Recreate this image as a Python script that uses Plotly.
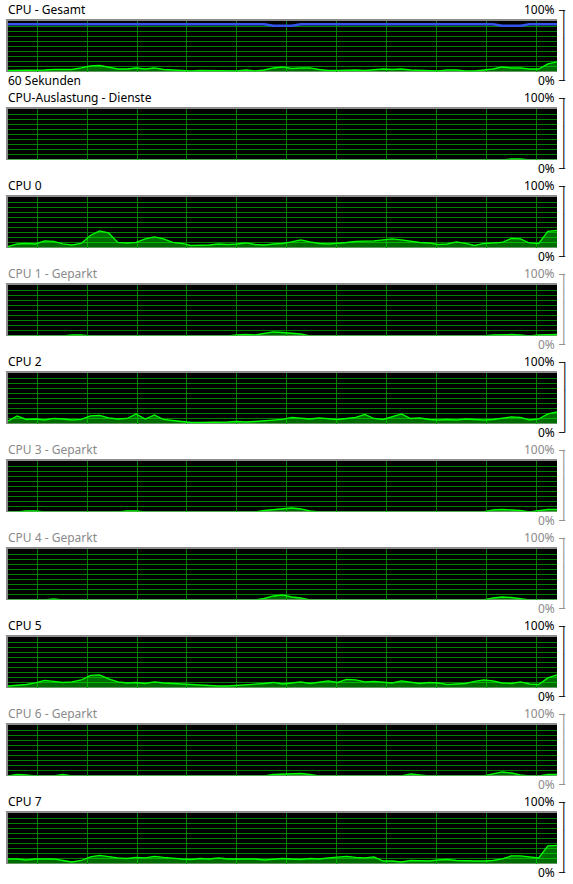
import plotly.graph_objects as go

W, H = 573, 884

# ---------------- data ----------------
seconds = list(range(61))  # last 60 seconds, one sample per second

panel_titles = ["CPU - Gesamt", "CPU-Auslastung - Dienste", "CPU 0", "CPU 1 - Geparkt",
                "CPU 2", "CPU 3 - Geparkt", "CPU 4 - Geparkt", "CPU 5",
                "CPU 6 - Geparkt", "CPU 7"]
parked = [False, False, False, True, False, True, True, False, True, False]
top_label = "100%"
bottom_label = "0%"
time_label = "60 Sekunden"

cpu_total = [3, 3, 4, 4, 4, 5, 5, 5, 8, 12, 13, 10, 6, 6, 8, 6, 8, 5, 4, 2,
             2, 3, 3, 2, 2, 2, 4, 2, 4, 8, 10, 7, 8, 8, 5, 3, 3, 4, 4, 3,
             4, 6, 5, 6, 4, 3, 2, 2, 4, 4, 2, 2, 4, 6, 10, 8, 8, 6, 6, 16, 20]
max_frequency = [95, 95, 95, 95, 95, 95, 95, 95, 95, 95, 95, 95, 95, 95, 95, 95, 95, 95, 95, 95,
                 95, 95, 95, 95, 95, 95, 95, 95, 95, 92, 92, 92, 95, 95, 95, 95, 95, 95, 95, 95,
                 95, 95, 95, 95, 95, 95, 95, 95, 95, 95, 95, 95, 95, 95, 92, 92, 92, 95, 95, 95, 95]
services = [0, 0, 0, 0, 0, 0, 0, 0, 0, 0, 0, 0, 0, 0, 0, 0, 0, 0, 0, 0,
            0, 0, 0, 0, 0, 0, 0, 0, 0, 0, 0, 0, 0, 0, 0, 0, 0, 0, 0, 0,
            0, 0, 0, 0, 0, 0, 0, 0, 0, 0, 0, 0, 0, 0, 0, 2, 2, 0, 0, 0, 0]
cpu0 = [3, 8, 9, 8, 14, 13, 8, 6, 9, 25, 34, 30, 11, 10, 11, 18, 22, 18, 11, 9,
        5, 5, 6, 8, 7, 8, 10, 7, 6, 8, 9, 12, 16, 12, 9, 8, 9, 11, 13, 13,
        14, 16, 18, 16, 13, 11, 10, 7, 8, 12, 9, 5, 9, 10, 11, 19, 18, 10, 9, 33, 35]
cpu1 = [0, 0, 0, 0, 0, 0, 0, 2, 2, 0, 0, 0, 0, 0, 0, 0, 0, 0, 0, 0,
        0, 0, 0, 0, 0, 2, 3, 2, 5, 8, 7, 5, 4, 0, 0, 0, 0, 0, 0, 0,
        0, 0, 0, 0, 0, 0, 0, 0, 0, 0, 0, 0, 0, 2, 3, 3, 2, 0, 2, 3, 3]
cpu2 = [6, 16, 9, 10, 8, 11, 10, 8, 9, 16, 17, 12, 10, 11, 20, 10, 18, 9, 7, 5,
        3, 3, 3, 4, 4, 5, 4, 5, 6, 7, 9, 13, 12, 10, 12, 10, 9, 11, 13, 19,
        11, 9, 15, 20, 11, 12, 9, 8, 9, 8, 10, 9, 8, 9, 11, 14, 13, 8, 10, 20, 24]
cpu3 = [0, 0, 2, 2, 0, 0, 0, 0, 0, 0, 0, 0, 0, 2, 2, 0, 0, 0, 0, 0,
        0, 0, 0, 0, 0, 0, 0, 0, 3, 5, 7, 8, 6, 2, 0, 0, 0, 0, 0, 0,
        0, 0, 0, 0, 0, 0, 0, 0, 0, 0, 0, 0, 0, 4, 5, 4, 3, 0, 2, 5, 5]
cpu4 = [0, 0, 0, 0, 0, 2, 0, 0, 0, 0, 0, 0, 0, 0, 0, 0, 0, 0, 0, 0,
        0, 0, 0, 0, 0, 0, 0, 0, 3, 8, 10, 6, 4, 0, 0, 0, 0, 0, 0, 0,
        0, 0, 0, 0, 0, 0, 0, 0, 0, 0, 0, 0, 0, 4, 6, 5, 2, 0, 0, 0, 0]
cpu5 = [4, 5, 7, 10, 15, 13, 11, 12, 16, 25, 26, 18, 12, 10, 11, 9, 12, 10, 9, 8,
        6, 5, 5, 4, 4, 5, 6, 7, 9, 11, 8, 10, 12, 9, 11, 14, 11, 17, 16, 12,
        13, 11, 10, 14, 12, 9, 11, 10, 7, 8, 9, 13, 16, 14, 10, 9, 12, 8, 7, 20, 26]
cpu6 = [0, 3, 2, 0, 0, 0, 3, 0, 0, 0, 0, 0, 0, 0, 0, 0, 0, 0, 0, 0,
        0, 0, 0, 0, 0, 0, 0, 0, 0, 3, 4, 4, 5, 3, 0, 0, 0, 0, 0, 0,
        0, 0, 0, 0, 4, 2, 0, 0, 0, 0, 0, 0, 0, 4, 8, 6, 2, 0, 0, 3, 3]
cpu7 = [10, 10, 8, 10, 10, 10, 7, 4, 7, 14, 17, 14, 12, 11, 13, 12, 15, 13, 11, 10,
        9, 11, 10, 12, 10, 10, 9, 10, 8, 9, 11, 10, 9, 11, 10, 12, 14, 15, 13, 12,
        14, 6, 6, 4, 7, 6, 6, 8, 9, 7, 6, 6, 6, 7, 10, 16, 16, 14, 12, 36, 37]

series = [cpu_total, services, cpu0, cpu1, cpu2, cpu3, cpu4, cpu5, cpu6, cpu7]

# ---------------- style / layout constants ----------------
PLOT_L, PLOT_R = 8, 557          # interior x in px
PITCH = 88                       # vertical distance between panels
INNER_TOP, INNER_BOT = 21, 71.5  # interior y of first panel in px
Y_RANGE = [1, 101.5]
GRID_TICK0 = 3.17                # scrolling vertical grid phase (s)
GRID_DTICK = 5.464               # vertical grid spacing (s)

LINE_GREEN = "#00ff00"
FILL_GREEN = "rgba(0,255,0,0.42)"
GRID_GREEN = "#008000"
BORDER = "#8c8c8c"
FONT = "Noto Sans"
MONO = "DejaVu Sans Mono"
ARM = "\u2500"                   # box-drawing horizontal stroke
SPINE = "\u2500" * 10            # rotated 90° to form the vertical bracket spine


def px_x(p):
    return p / W


def px_y(p):
    return 1 - p / H


def text_at(txt, xp, yp, color, size, family=FONT, anchor="left", angle=0, weight="normal"):
    return dict(text=txt, x=px_x(xp), y=px_y(yp), xref="paper", yref="paper",
                xanchor=anchor, yanchor="middle", showarrow=False, textangle=angle,
                font=dict(family=family, size=size, color=color, weight=weight))


fig = go.Figure()
layout = dict(width=W, height=H, margin=dict(l=0, r=0, t=0, b=0),
              paper_bgcolor="white", plot_bgcolor="black", showlegend=False)
annotations = []

for k, (title, vals, pk) in enumerate(zip(panel_titles, series, parked)):
    sfx = "" if k == 0 else str(k + 1)
    top = INNER_TOP + PITCH * k
    bot = INNER_BOT + PITCH * k
    layout["xaxis" + sfx] = dict(
        domain=[px_x(PLOT_L), px_x(PLOT_R)], range=[0, 60], anchor="y" + sfx,
        side="top", showline=True, linecolor=BORDER, linewidth=2,
        showgrid=True, gridcolor=GRID_GREEN, gridwidth=1,
        tickmode="linear", tick0=GRID_TICK0, dtick=GRID_DTICK,
        showticklabels=False, ticks="", zeroline=False, fixedrange=True)
    layout["yaxis" + sfx] = dict(
        domain=[px_y(bot), px_y(top)], range=Y_RANGE, anchor="x" + sfx,
        showline=True, linecolor=BORDER, linewidth=2,
        showgrid=True, gridcolor=GRID_GREEN, gridwidth=1,
        tickmode="array", tickvals=[10, 20, 30, 40, 50, 60, 70, 80, 90],
        showticklabels=False, ticks="", zeroline=False, fixedrange=True)

    fig.add_trace(go.Scatter(
        x=seconds, y=vals, mode="lines", fill="tozeroy", fillcolor=FILL_GREEN,
        line=dict(color=LINE_GREEN, width=1.3), xaxis="x" + sfx, yaxis="y" + sfx,
        hoverinfo="skip"))
    if k == 0:
        fig.add_trace(go.Scatter(
            x=seconds, y=max_frequency, mode="lines",
            line=dict(color="#3355ee", width=2.5), xaxis="x", yaxis="y",
            hoverinfo="skip"))

    tcolor = "#8a8a8a" if pk else "#000000"
    title_y = 9.5 + PITCH * k
    zero_y = 80.5 + PITCH * k
    annotations.append(text_at(title, 6, title_y, tcolor, 12))
    annotations.append(text_at(top_label, 557, title_y, tcolor, 12, anchor="right"))
    annotations.append(text_at(bottom_label, 557, zero_y, tcolor, 12, anchor="right"))

    # bracket on the right: two short arms and a vertical spine
    by0 = 10.5 + PITCH * k
    by1 = 80.5 + PITCH * k
    annotations.append(text_at(ARM, 562, by0, tcolor, 10, family=MONO, anchor="center",
                               weight="bold"))
    annotations.append(text_at(ARM, 562, by1, tcolor, 10, family=MONO, anchor="center",
                               weight="bold"))
    annotations.append(text_at(SPINE, 564.3, (by0 + by1) / 2, tcolor, 11.6,
                               family=MONO, anchor="center", angle=90, weight="bold"))

annotations.append(text_at(time_label, 6, 80.5, "#000000", 12))

layout["annotations"] = annotations
fig.update_layout(**layout)
fig.write_html("out.html", config={"displayModeBar": False},
               post_script="document.body.style.margin='0';document.body.style.overflow='hidden';")
